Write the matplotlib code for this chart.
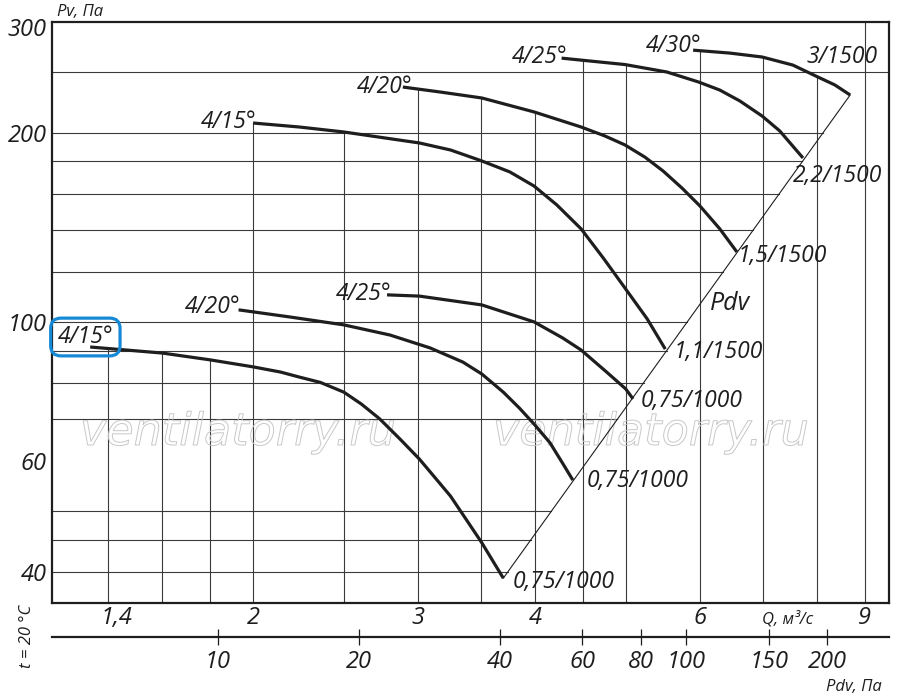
import numpy as np
import matplotlib
matplotlib.use('Agg')
import matplotlib.pyplot as plt
import matplotlib.patheffects as pe
from matplotlib.ticker import NullLocator
from matplotlib.transforms import ScaledTranslation

plt.rcParams['font.family'] = ['Open Sans', 'DejaVu Sans']
plt.rcParams['font.style'] = 'italic'

# Q, м³/с и Pv, Па - точки
q_low_15 = [1.34, 1.60, 1.80, 2.00, 2.14, 2.24, 2.36, 2.50, 2.61, 2.73, 2.87, 3.01, 3.11, 3.25, 3.38, 3.51, 3.70]
p_low_15 = [91.2, 89.2, 87.0, 84.8, 83.2, 81.7, 80.1, 77.3, 74.0, 70.1, 65.1, 60.5, 57.1, 52.8, 48.4, 44.5, 39.1]
q_low_20 = [1.93, 2.19, 2.50, 2.80, 3.09, 3.35, 3.51, 3.70, 3.85, 4.00, 4.15, 4.28, 4.39]
p_low_20 = [104.5, 101.8, 98.9, 95.3, 90.9, 86.3, 82.6, 77.3, 72.9, 68.5, 64.2, 59.6, 56.0]
q_low_25 = [2.78, 3.01, 3.51, 3.99, 4.28, 4.48, 4.77, 5.00, 5.09]
p_low_25 = [110.4, 109.9, 106.4, 100.0, 94.3, 90.2, 83.2, 78.2, 75.4]
q_up_15 = [2.00, 2.24, 2.50, 3.01, 3.25, 3.51, 3.76, 3.99, 4.22, 4.48, 4.73, 4.99, 5.27, 5.51]
p_up_15 = [207.2, 204.2, 200.5, 192.6, 187.7, 180.3, 173.2, 164.5, 153.5, 140.6, 126.4, 113.2, 101.1, 90.5]
q_up_20 = [2.89, 3.17, 3.51, 3.99, 4.48, 4.75, 4.99, 5.24, 5.48, 5.74, 6.00, 6.30, 6.57]
p_up_20 = [236.4, 232.1, 227.1, 215.8, 204.2, 197.6, 191.2, 182.9, 173.8, 163.3, 152.9, 140.6, 129.2]
q_up_25 = [4.27, 4.48, 4.99, 5.53, 5.98, 6.30, 6.62, 6.99, 7.30, 7.73]
p_up_25 = [262.8, 260.9, 256.7, 249.8, 240.8, 233.8, 224.6, 212.6, 201.3, 182.3]
q_up_30 = [5.90, 6.46, 6.99, 7.54, 8.02, 8.36, 8.68]
p_up_30 = [270.6, 267.7, 263.9, 256.2, 245.2, 238.2, 229.6]

start_labels = ['4/15°', '4/20°', '4/25°', '4/15°', '4/20°', '4/25°', '4/30°']
end_labels = ['0,75/1000', '0,75/1000', '0,75/1000', '1,1/1500', '1,5/1500', '2,2/1500', '3/1500']

q_ticks = [1.4, 2, 3, 4, 6, 9]
q_tick_labels = ['1,4', '2', '3', '4', '6', '9']
p_ticks = [40, 60, 100, 200, 300]
p_tick_labels = ['40', '60', '100', '200', '300']
pdv_ticks = [10, 20, 40, 60, 80, 100, 150, 200]
pdv_tick_labels = ['10', '20', '40', '60', '80', '100', '150', '200']

grid_q = [1.4, 1.6, 1.8, 2, 2.5, 3, 3.5, 4, 4.5, 5, 6, 7, 8, 9]
grid_p = [250, 200, 180, 160, 140, 120, 100, 90, 80, 70, 50, 45, 40]

k_pdv = 2.97  # Pdv = k * Q^2
qmin, qmax = 1.22, 9.55
pmin, pmax = 35.7, 300

curves = [(q_low_15, p_low_15), (q_low_20, p_low_20), (q_low_25, p_low_25),
          (q_up_15, p_up_15), (q_up_20, p_up_20), (q_up_25, p_up_25), (q_up_30, p_up_30)]

# смещения подписей в пикселях (dx вправо, dy вниз)
start_off = [(23, -4), (2, 3), (4, 5), (3, 5), (10, 6), (6, 5), (8, 2)]
end_off = [(9, 10), (14, 7), (8, 8), (8, 9), (1, 10), (-10, 24), (-44, -32)]

LINE = '#1e1e1e'
GRID = '#3a3a3a'

fig = plt.figure(figsize=(9, 6.97), dpi=100)
ax = fig.add_axes([52 / 900, 1 - 603 / 697, (889 - 52) / 900, (603 - 22) / 697])
ax.set_xscale('log')
ax.set_yscale('log')
ax.set_xlim(qmin, qmax)
ax.set_ylim(pmin, pmax)


def curve_top(q):
    tops = []
    for qs, ps in curves:
        if qs[0] <= q <= qs[-1]:
            tops.append(10 ** np.interp(np.log10(q), np.log10(qs), np.log10(ps)))
    return max(tops) if tops else pmax


# линия Pdv через конечные точки
qa, pa = q_low_15[-1], p_low_15[-1]
qb, pb = q_up_30[-1], p_up_30[-1]

for q in grid_q:
    ax.plot([q, q], [pmin, curve_top(q)], color=GRID, lw=0.8, zorder=1)
for p in grid_p:
    if p > pb:
        qr = qmax
    else:
        qr = 10 ** np.interp(np.log10(p), [np.log10(pa), np.log10(pb)], [np.log10(qa), np.log10(qb)])
    ax.plot([qmin, qr], [p, p], color=GRID, lw=0.8, zorder=1)

ax.plot([qa, qb], [pa, pb], color=LINE, lw=0.8, zorder=2)

# водяной знак
for x0 in (80, 493):
    ax.text(x0 / 900, 1 - 445 / 697, 'ventilatorry.ru', transform=fig.transFigure,
            fontsize=32, color=(1, 1, 1, 0), family=['DejaVu Sans'], zorder=1.5,
            path_effects=[pe.Stroke(linewidth=0.7, foreground='#c8c8c8')])

for i, (qs, ps) in enumerate(curves):
    ax.plot(qs, ps, color=LINE, lw=2.3, solid_capstyle='butt', solid_joinstyle='round', zorder=3)
    dx, dy = start_off[i]
    kw = {}
    if i == 0:
        kw['bbox'] = dict(boxstyle='round,pad=0.3,rounding_size=0.45', fc='none',
                          ec='#1589d6', lw=2.3)
    ax.annotate(start_labels[i], xy=(qs[0], ps[0]), xytext=(dx * 0.72, -dy * 0.72),
                textcoords='offset points', ha='right', va='baseline', fontsize=16.5,
                color=LINE, zorder=4, **kw)
    dx, dy = end_off[i]
    ax.annotate(end_labels[i], xy=(qs[-1], ps[-1]), xytext=(dx * 0.72, -dy * 0.72),
                textcoords='offset points', ha='left', va='baseline', fontsize=16.5,
                color=LINE, zorder=4)

ax.text(6.15, 104.5, 'Pdv', fontsize=18, color=LINE, ha='left', va='baseline')

ax.set_xticks(q_ticks, q_tick_labels)
ax.set_yticks(p_ticks, p_tick_labels)
ax.xaxis.set_minor_locator(NullLocator())
ax.yaxis.set_minor_locator(NullLocator())
ax.tick_params(axis='x', length=0, pad=2, labelsize=17, labelcolor=LINE)
ax.tick_params(axis='y', length=0, pad=4, labelsize=17, labelcolor=LINE)
# подпись 1,4 чуть правее линии сетки, 300 - чуть ниже верхней рамки
lbl = ax.get_xticklabels()[0]
lbl.set_transform(lbl.get_transform() + ScaledTranslation(9 / 100, 0, fig.dpi_scale_trans))
lbl = ax.get_yticklabels()[-1]
lbl.set_transform(lbl.get_transform() + ScaledTranslation(0, -5 / 100, fig.dpi_scale_trans))
for s in ax.spines.values():
    s.set_linewidth(1.6)
    s.set_color(LINE)

secax = ax.secondary_xaxis(-34 / 581, functions=(lambda q: k_pdv * q ** 2,
                                                 lambda p: np.sqrt(np.abs(p) / k_pdv)))
secax.set_xticks(pdv_ticks, pdv_tick_labels)
secax.xaxis.set_minor_locator(NullLocator())
secax.tick_params(axis='x', direction='inout', length=11, width=0.9, pad=4,
                  labelsize=17, color=LINE, labelcolor=LINE)
secax.spines['bottom'].set_linewidth(1.6)
secax.spines['bottom'].set_color(LINE)

fig.text(57 / 900, 1 - 16 / 697, 'Pv, Па', fontsize=12, color=LINE, va='baseline')
fig.text(762 / 900, 1 - 623 / 697, 'Q, м³/с', fontsize=12, color=LINE, va='baseline')
fig.text(882 / 900, 1 - 691 / 697, 'Pdv, Па', fontsize=12, color=LINE, ha='right', va='baseline')
fig.text(27 / 900, 1 - 636 / 697, 't = 20 °C', fontsize=12, color=LINE, rotation=90,
         ha='center', va='center')

fig.savefig('out.png', dpi=100)
